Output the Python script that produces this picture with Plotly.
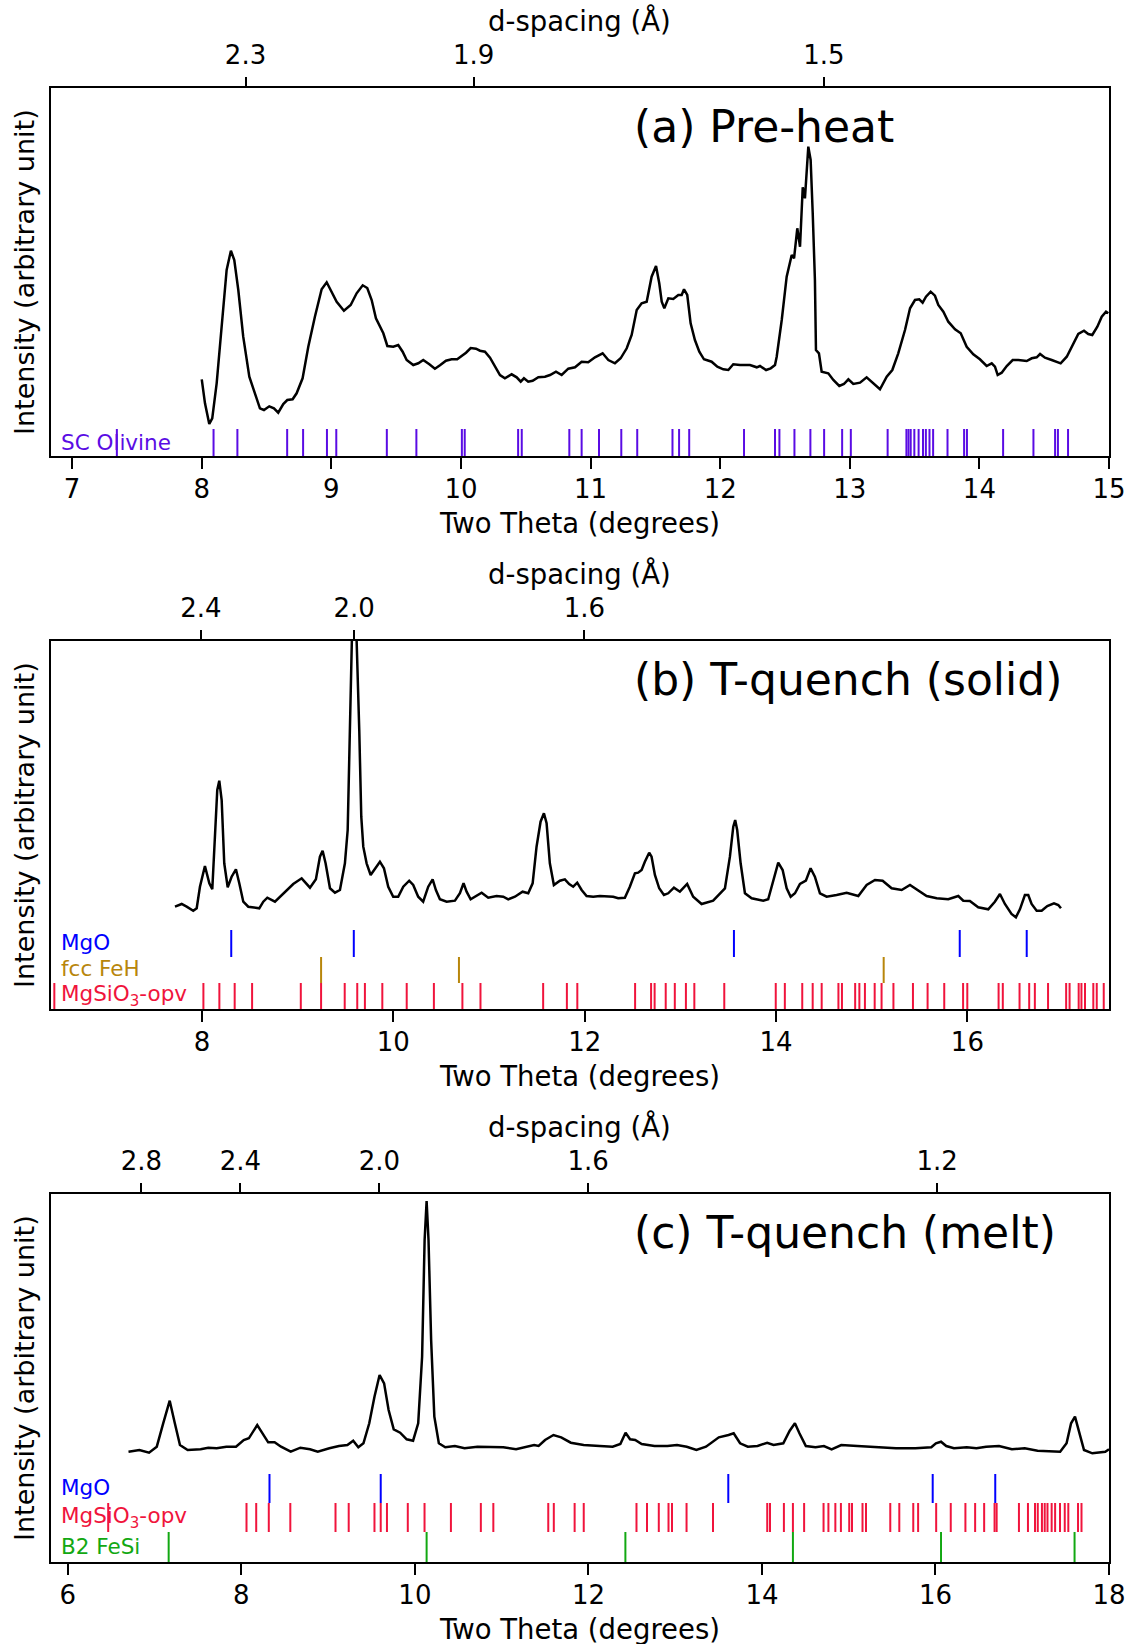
import numpy as np
import plotly.graph_objects as go

# X-ray wavelength used to convert d-spacing to two-theta (Å)
WAVELENGTH = 0.3344

# ---------------- (a) Pre-heat ----------------
two_theta_a = [8.000, 8.025, 8.058, 8.081, 8.115, 8.153, 8.192, 8.225, 8.251, 8.282, 8.320, 8.367,
               8.411, 8.449, 8.480, 8.521, 8.557, 8.590, 8.629, 8.660, 8.701, 8.732, 8.778, 8.822,
               8.873, 8.925, 8.964, 8.995, 9.041, 9.097, 9.149, 9.195, 9.242, 9.277, 9.311, 9.344,
               9.401, 9.432, 9.478, 9.516, 9.550, 9.581, 9.632, 9.671, 9.709, 9.756, 9.799, 9.838,
               9.884, 9.928, 9.971, 10.005, 10.039, 10.075, 10.116, 10.147, 10.185, 10.224, 10.262,
               10.301, 10.339, 10.391, 10.430, 10.461, 10.486, 10.519, 10.553, 10.597, 10.648, 10.687,
               10.733, 10.777, 10.828, 10.880, 10.931, 10.982, 11.034, 11.093, 11.137, 11.188, 11.232,
               11.279, 11.317, 11.356, 11.394, 11.433, 11.471, 11.505, 11.530, 11.549, 11.569, 11.600,
               11.638, 11.677, 11.703, 11.721, 11.746, 11.772, 11.805, 11.839, 11.875, 11.934, 11.978,
               12.024, 12.063, 12.101, 12.153, 12.230, 12.282, 12.307, 12.354, 12.390, 12.423, 12.436,
               12.475, 12.513, 12.552, 12.570, 12.595, 12.616, 12.637, 12.654, 12.680, 12.698, 12.714,
               12.731, 12.739, 12.762, 12.783, 12.834, 12.873, 12.919, 12.955, 12.989, 13.027, 13.079,
               13.130, 13.169, 13.233, 13.285, 13.328, 13.374, 13.426, 13.465, 13.503, 13.536, 13.562,
               13.588, 13.624, 13.657, 13.683, 13.722, 13.760, 13.812, 13.856, 13.902, 13.953, 14.004,
               14.056, 14.095, 14.120, 14.141, 14.172, 14.211, 14.257, 14.300, 14.365, 14.404, 14.442,
               14.468, 14.506, 14.558, 14.627, 14.674, 14.720, 14.763, 14.807, 14.840, 14.871, 14.910,
               14.944, 14.977, 14.995]
intensity_a = [76.7, 52.7, 32.0, 37.7, 72.7, 126.0, 186.0, 205.3, 196.0, 166.0, 119.3, 79.3,
               62.7, 47.7, 46.0, 49.7, 47.7, 43.3, 52.0, 56.0, 56.7, 62.7, 77.7, 109.3,
               139.3, 166.7, 173.7, 166.0, 154.3, 145.3, 151.0, 162.7, 170.7, 168.0, 156.0, 137.7,
               122.7, 110.0, 109.3, 111.0, 104.3, 96.0, 91.0, 92.7, 96.0, 91.7, 87.3, 90.7,
               95.3, 96.7, 96.7, 100.0, 103.3, 108.0, 107.3, 105.3, 104.3, 98.3, 89.3,
               81.0, 77.7, 81.7, 78.7, 74.3, 77.7, 74.3, 75.3, 78.7, 79.3, 81.0,
               84.3, 81.0, 87.3, 88.7, 94.3, 93.7, 98.7, 102.7, 96.0, 92.7, 97.7,
               107.7, 121.0, 146.0, 152.7, 154.3, 179.3, 190.0, 172.7, 154.3, 147.7, 157.7,
               157.0, 161.0, 161.0, 166.7, 161.0, 132.7, 116.0, 104.3, 96.7, 94.3, 89.3,
               86.7, 86.0, 91.7, 91.0, 91.0, 88.7, 90.0, 86.0, 87.7, 91.0, 99.3,
               136.0, 179.3, 201.0, 197.7, 227.7, 209.3, 268.7, 257.7, 309.3, 296.0, 242.7,
               176.0, 106.0, 102.7, 84.3, 82.7, 76.0, 70.0, 72.0, 76.7, 72.0, 73.3,
               78.7, 74.3, 66.7, 79.3, 86.0, 102.7, 126.0, 147.7, 156.0, 156.7, 153.3,
               159.3, 164.3, 160.3, 151.0, 144.3, 134.3, 126.7, 122.7, 109.3, 101.7, 96.7,
               90.0, 92.7, 89.3, 81.0, 83.3, 90.0, 96.0, 96.0, 95.0, 97.7, 98.7,
               102.0, 98.3, 96.0, 92.7, 99.3, 111.0, 122.0, 125.3, 122.0, 121.0, 129.3,
               139.3, 144.3, 142.7]

sc_olivine_a = [7.345, 8.091, 8.275, 8.659, 8.782, 8.966, 9.038, 9.428, 9.656, 10.007, 10.029,
                10.441, 10.469, 10.836, 10.931, 11.065, 11.237, 11.360, 11.632, 11.683, 11.761,
                12.184, 12.423, 12.457, 12.573, 12.696, 12.802, 12.941, 13.008, 13.292, 13.437,
                13.453, 13.470, 13.498, 13.531, 13.565, 13.587, 13.615, 13.643, 13.754, 13.882,
                13.904, 14.183, 14.417, 14.584, 14.606, 14.684]

# ---------------- (b) T-quench (solid) ----------------
two_theta_b = [7.718, 7.788, 7.840, 7.909, 7.945, 7.979, 8.031, 8.077, 8.108, 8.136, 8.160, 8.181,
               8.206, 8.233, 8.269, 8.310, 8.355, 8.390, 8.432, 8.484, 8.554, 8.599, 8.641, 8.683,
               8.763, 8.850, 8.954, 9.042, 9.129, 9.191, 9.233, 9.261, 9.292, 9.338, 9.390, 9.442,
               9.494, 9.523, 9.547, 9.567, 9.590, 9.616, 9.644, 9.665, 9.686, 9.721, 9.763, 9.808,
               9.860, 9.902, 9.947, 9.999, 10.051, 10.104, 10.166, 10.208, 10.260, 10.312, 10.365,
               10.411, 10.445, 10.487, 10.557, 10.644, 10.696, 10.734, 10.766, 10.808, 10.863, 10.923,
               10.992, 11.079, 11.149, 11.201, 11.271, 11.351, 11.410, 11.456, 11.497, 11.539, 11.574,
               11.602, 11.636, 11.678, 11.741, 11.793, 11.838, 11.880, 11.922, 11.968, 12.020, 12.089,
               12.159, 12.229, 12.298, 12.350, 12.420, 12.472, 12.525, 12.559, 12.595, 12.629, 12.674,
               12.699, 12.734, 12.779, 12.828, 12.873, 12.933, 12.995, 13.071, 13.134, 13.222, 13.343,
               13.466, 13.518, 13.553, 13.573, 13.594, 13.630, 13.675, 13.745, 13.866, 13.918, 13.971,
               14.023, 14.069, 14.111, 14.153, 14.198, 14.250, 14.312, 14.361, 14.406, 14.459, 14.529,
               14.633, 14.738, 14.860, 14.947, 15.034, 15.114, 15.208, 15.313, 15.400, 15.470, 15.574,
               15.679, 15.800, 15.905, 15.957, 16.026, 16.113, 16.218, 16.287, 16.340, 16.392, 16.461,
               16.507, 16.549, 16.601, 16.636, 16.671, 16.724, 16.776, 16.835, 16.905, 16.950, 16.978]
intensity_b = [102.3, 105.0, 102.3, 98.3, 100.7, 122.3, 143.0, 125.7, 119.7, 172.3, 219.0, 228.3,
               209.0, 145.7, 121.7, 132.3, 139.7, 125.7, 107.3, 102.3, 101.7, 100.7, 107.3, 111.3,
               107.3, 115.7, 125.0, 130.7, 121.3, 129.7, 152.3, 158.3, 145.7, 120.7, 116.3, 119.0,
               145.7, 179.0, 279.0, 370.0, 420.0, 370.0, 279.0, 192.3, 162.3, 145.7, 134.0, 139.7,
               147.3, 140.7, 122.3, 112.3, 112.3, 122.3, 128.3, 124.0, 112.3, 107.3, 122.3,
               129.7, 119.0, 109.7, 107.3, 108.3, 115.7, 125.7, 117.3, 109.7, 113.0, 116.3,
               111.3, 113.0, 112.3, 109.7, 112.3, 117.3, 115.7, 125.7, 162.3, 187.3, 195.7,
               185.7, 145.7, 124.0, 128.3, 129.7, 125.0, 122.3, 126.3, 119.0, 113.0, 112.3,
               113.0, 112.3, 112.3, 110.7, 111.3, 122.3, 135.7, 136.3, 139.0, 147.3, 156.3,
               152.3, 134.0, 120.7, 114.0, 115.7, 121.3, 117.3, 125.0, 112.3, 105.0, 108.3,
               120.7, 152.3, 182.3, 189.0, 179.0, 145.7, 115.7, 110.7, 108.3, 109.7, 128.3,
               146.3, 139.0, 120.7, 112.3, 115.7, 125.0, 128.3, 140.7, 132.3, 115.7, 112.3,
               114.0, 116.3, 113.0, 124.0, 129.0, 128.3, 120.7, 119.0, 124.0, 119.7, 113.0,
               110.7, 109.7, 113.0, 108.3, 108.0, 101.7, 99.7, 107.3, 115.0, 105.0, 95.0,
               91.7, 99.7, 114.0, 114.0, 105.0, 98.3, 98.3, 103.0, 105.7, 104.0, 100.7]

mgo_b = [8.306, 9.587, 13.560, 15.920, 16.620]
fcc_feh_b = [9.245, 10.686, 15.125]
mgsio3_opv_b = [6.457, 8.015, 8.182, 8.342, 8.524, 9.033, 9.245, 9.492, 9.623, 9.703, 9.885,
                10.140, 10.424, 10.722, 10.911, 11.566, 11.814, 11.923, 12.527, 12.694, 12.731,
                12.847, 12.942, 13.058, 13.146, 13.459, 13.997, 14.092, 14.274, 14.383, 14.477,
                14.652, 14.689, 14.827, 14.871, 14.929, 15.031, 15.103, 15.227, 15.431, 15.584,
                15.758, 15.955, 15.999, 16.326, 16.370, 16.545, 16.646, 16.705, 16.843, 17.032,
                17.068, 17.163, 17.192, 17.229, 17.316, 17.352, 17.425]

# ---------------- (c) T-quench (melt) ----------------
two_theta_c = [6.699, 6.825, 6.936, 7.025, 7.099, 7.174, 7.233, 7.292, 7.381, 7.530, 7.619, 7.715,
               7.827, 7.938, 8.027, 8.086, 8.183, 8.235, 8.309, 8.383, 8.457, 8.569, 8.680, 8.791,
               8.880, 9.014, 9.125, 9.222, 9.289, 9.348, 9.407, 9.474, 9.534, 9.593, 9.645, 9.697,
               9.756, 9.830, 9.905, 9.979, 10.038, 10.083, 10.112, 10.135, 10.157, 10.187, 10.224,
               10.276, 10.350, 10.461, 10.572, 10.721, 10.870, 11.018, 11.166, 11.278, 11.374, 11.426,
               11.500, 11.597, 11.686, 11.797, 11.945, 12.131, 12.279, 12.368, 12.428, 12.480, 12.539,
               12.614, 12.762, 12.910, 13.021, 13.133, 13.244, 13.355, 13.503, 13.615, 13.674, 13.748,
               13.837, 13.949, 14.060, 14.134, 14.246, 14.320, 14.380, 14.432, 14.506, 14.617, 14.714,
               14.803, 14.914, 15.100, 15.322, 15.545, 15.768, 15.952, 16.005, 16.064, 16.124, 16.213,
               16.361, 16.472, 16.584, 16.732, 16.881, 17.029, 17.177, 17.326, 17.437, 17.511, 17.563,
               17.608, 17.652, 17.712, 17.808, 17.957, 18.000]
intensity_c = [110.3, 112.0, 109.3, 115.3, 138.7, 161.3, 138.7, 117.0, 112.0, 112.7, 114.3, 113.7,
               115.3, 115.3, 122.0, 123.7, 137.0, 130.3, 119.7, 119.7, 115.3, 110.3, 114.3, 112.7,
               110.3, 113.7, 116.0, 117.0, 121.3, 114.7, 118.7, 138.7, 165.3, 187.0, 178.7, 152.0,
               132.7, 129.3, 122.7, 121.3, 138.7, 205.3, 322.0, 361.0, 322.0, 222.0, 145.3,
               118.7, 114.7, 116.0, 113.7, 115.3, 114.7, 114.7, 112.7, 114.7, 117.0, 116.0,
               122.0, 127.0, 124.7, 119.3, 117.0, 116.0, 115.3, 118.0, 129.3, 122.7, 122.0,
               118.0, 116.0, 116.0, 117.0, 115.3, 112.0, 115.3, 124.7, 127.0, 128.7, 118.7,
               115.3, 116.0, 119.3, 117.0, 118.7, 131.3, 138.7, 128.7, 116.0, 114.7, 116.0,
               112.7, 117.0, 116.0, 114.7, 113.7, 113.7, 114.7, 118.7, 120.3, 116.0, 113.7,
               114.7, 113.7, 115.3, 116.0, 112.7, 113.7, 111.3, 110.3, 110.3, 118.7, 138.7,
               145.3, 132.0, 112.0, 108.7, 110.3, 112.7]

mgo_c = [8.324, 9.606, 13.612, 15.968, 16.689]
mgsio3_opv_c = [6.465, 8.059, 8.171, 8.316, 8.564, 9.085, 9.237, 9.534, 9.606, 9.678, 9.918,
                10.111, 10.415, 10.760, 10.904, 11.537, 11.601, 11.841, 11.946, 12.554, 12.675,
                12.811, 12.923, 12.963, 13.131, 13.436, 14.061, 14.093, 14.253, 14.357, 14.486,
                14.710, 14.766, 14.846, 14.910, 15.006, 15.038, 15.159, 15.199, 15.479, 15.583,
                15.744, 15.800, 16.008, 16.176, 16.345, 16.457, 16.561, 16.681, 16.705, 16.962,
                17.066, 17.147, 17.179, 17.227, 17.259, 17.291, 17.339, 17.379, 17.435, 17.490,
                17.531, 17.643, 17.683]
b2_fesi_c = [7.162, 10.135, 12.426, 14.357, 16.064, 17.603]

# d-spacing ticks shown on each top axis (Å)
d_ticks_a = [2.3, 1.9, 1.5]
d_ticks_b = [2.4, 2.0, 1.6]
d_ticks_c = [2.8, 2.4, 2.0, 1.6, 1.2]

# two-theta ticks on each bottom axis
tt_ticks_a = [7, 8, 9, 10, 11, 12, 13, 14, 15]
tt_ticks_b = [8, 10, 12, 14, 16]
tt_ticks_c = [6, 8, 10, 12, 14, 16, 18]

panel_titles = ["(a) Pre-heat", "(b) T-quench (solid)", "(c) T-quench (melt)"]

# ---------------- figure geometry ----------------
W, H = 1130, 1644
FONT = "DejaVu Sans"
AX_LEFT, AX_RIGHT = 50.5, 1109.0
AX_H = 368.0
panel_tops = [88.0, 641.0, 1194.0]
x_ranges = [[6.833, 15.0], [6.417, 17.48], [5.80, 18.0]]

C_OLIVINE = "#5a0ce4"
C_MGO = "#0000ff"
C_FEH = "#b8860b"
C_OPV = "#f0143c"
C_FESI = "#12a812"


def fx(px):
    return px / W


def fy(py):
    return 1.0 - py / H


def d_to_two_theta(d):
    return np.degrees(2.0 * np.arcsin(WAVELENGTH / (2.0 * np.asarray(d, dtype=float))))


def segments(positions, y0, y1):
    xs, ys = [], []
    for p in positions:
        xs += [p, p, None]
        ys += [y0, y1, None]
    return xs, ys


panels = [
    dict(tt=two_theta_a, inten=intensity_a, dt=d_ticks_a, ticks=tt_ticks_a,
         rows=[("SC Olivine", sc_olivine_a, C_OLIVINE, 0, 27, 13.5)]),
    dict(tt=two_theta_b, inten=intensity_b, dt=d_ticks_b, ticks=tt_ticks_b,
         rows=[("MgO", mgo_b, C_MGO, 52, 79, 66.5),
               ("fcc FeH", fcc_feh_b, C_FEH, 26, 52, 40.5),
               ("MgSiO<sub>3</sub>-opv", mgsio3_opv_b, C_OPV, 0, 26, 14)]),
    dict(tt=two_theta_c, inten=intensity_c, dt=d_ticks_c, ticks=tt_ticks_c,
         rows=[("MgO", mgo_c, C_MGO, 59, 88, 74.5),
               ("MgSiO<sub>3</sub>-opv", mgsio3_opv_c, C_OPV, 30, 59, 45),
               ("B2 FeSi", b2_fesi_c, C_FESI, 0, 30, 15.5)]),
]

fig = go.Figure()
layout = dict(
    template="none",
    width=W, height=H, autosize=False,
    margin=dict(l=0, r=0, t=0, b=0, pad=0, autoexpand=False),
    paper_bgcolor="white", plot_bgcolor="white",
    showlegend=False,
    font=dict(family=FONT, color="black"),
)
annotations = []

for i, p in enumerate(panels):
    xb, xt, yn = 2 * i + 1, 2 * i + 2, i + 1
    xb_ref = "x" if xb == 1 else f"x{xb}"
    xt_ref = f"x{xt}"
    y_ref = "y" if yn == 1 else f"y{yn}"
    xb_key = "xaxis" if xb == 1 else f"xaxis{xb}"
    xt_key = f"xaxis{xt}"
    y_key = "yaxis" if yn == 1 else f"yaxis{yn}"

    top = panel_tops[i]
    bottom = top + AX_H
    rng = x_ranges[i]

    # diffraction pattern
    fig.add_trace(go.Scatter(x=p["tt"], y=p["inten"], mode="lines",
                             line=dict(color="black", width=2.5),
                             xaxis=xb_ref, yaxis=y_ref, hoverinfo="skip"))

    # reflection markers for each phase
    for label, pos, color, y0, y1, ylab in p["rows"]:
        xs, ys = segments(pos, y0, y1)
        fig.add_trace(go.Scatter(x=xs, y=ys, mode="lines",
                                 line=dict(color=color, width=2),
                                 xaxis=xb_ref, yaxis=y_ref, hoverinfo="skip"))
        annotations.append(dict(text=label, xref="paper", yref=y_ref, x=fx(58.5), y=ylab,
                                xanchor="left", yanchor="middle", showarrow=False,
                                font=dict(family=FONT, size=21.5, color=color)))

    # empty series bound to the d-spacing axis so that it is rendered
    fig.add_trace(go.Scatter(x=rng, y=[None, None], mode="lines",
                             xaxis=xt_ref, yaxis=y_ref, hoverinfo="skip"))

    layout[xb_key] = dict(
        domain=[fx(AX_LEFT), fx(AX_RIGHT)], range=rng, anchor=y_ref, automargin=False,
        showline=True, linecolor="black", linewidth=2, mirror=True,
        ticks="outside", ticklen=11, tickwidth=2, tickcolor="black",
        tickmode="array", tickvals=p["ticks"], ticktext=[str(t) for t in p["ticks"]],
        tickfont=dict(family=FONT, size=26, color="black"),
        ticklabelstandoff=-2,
        showgrid=False, zeroline=False,
    )
    dvals = d_to_two_theta(p["dt"])
    layout[xt_key] = dict(
        overlaying=xb_ref, side="top", anchor=y_ref, range=rng, automargin=False,
        showline=False, ticks="outside", ticklen=10, tickwidth=2, tickcolor="black",
        tickmode="array", tickvals=list(dvals), ticktext=[f"{d:.1f}" for d in p["dt"]],
        tickfont=dict(family=FONT, size=26, color="black"),
        ticklabelstandoff=3,
        showgrid=False, zeroline=False,
    )
    layout[y_key] = dict(
        domain=[fy(bottom), fy(top)], range=[0, AX_H], anchor=xb_ref, automargin=False,
        showline=True, linecolor="black", linewidth=2, mirror=True,
        ticks="", showticklabels=False, showgrid=False, zeroline=False,
    )

    # panel title and axis titles
    annotations.append(dict(text=panel_titles[i], xref="paper", yref="paper",
                            x=fx(632), y=fy(top + 38.5), xanchor="left", yanchor="middle",
                            showarrow=False, font=dict(family=FONT, size=44, color="black")))
    xc = fx((AX_LEFT + AX_RIGHT) / 2)
    annotations.append(dict(text="Two Theta (degrees)", xref="paper", yref="paper",
                            x=xc, y=fy(bottom + 67), xanchor="center", yanchor="middle",
                            showarrow=False, font=dict(family=FONT, size=27.5, color="black")))
    annotations.append(dict(text="d-spacing (Å)", xref="paper", yref="paper",
                            x=xc, y=fy(top - 67.5), xanchor="center", yanchor="middle",
                            showarrow=False, font=dict(family=FONT, size=27.5, color="black")))
    annotations.append(dict(text="Intensity (arbitrary unit)", xref="paper", yref="paper",
                            x=fx(24), y=fy(top + AX_H / 2), xanchor="center", yanchor="middle",
                            textangle=-90, showarrow=False,
                            font=dict(family=FONT, size=27, color="black")))

layout["annotations"] = annotations
fig.update_layout(**layout)
fig.write_html("out.html", config={"responsive": False})
